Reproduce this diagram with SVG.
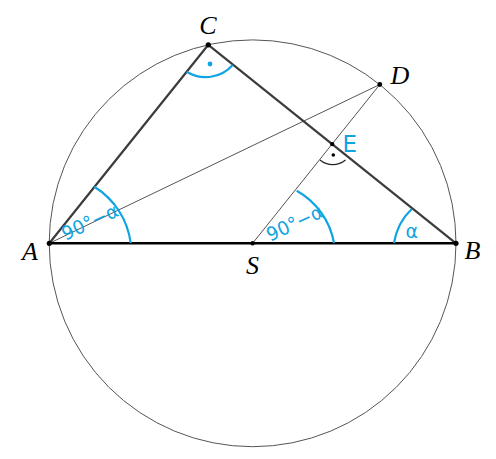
<svg xmlns="http://www.w3.org/2000/svg" width="496" height="459" viewBox="0 0 496 459">
<style>
.thin{stroke:#555;stroke-width:1;fill:none}
.side{stroke:#3c3c3c;stroke-width:2.2;fill:none;stroke-linecap:round}
.base{stroke:#000;stroke-width:2.4;fill:none}
.ang{stroke:#10a4e2;stroke-width:2.2;fill:none}
.pt{fill:#000}
.lbl{font-family:"Liberation Serif",serif;font-style:italic;font-size:26px;fill:#000}
.blue{font-family:"DejaVu Sans",sans-serif;font-size:19px;fill:#10a4e2}
</style>
<rect width="496" height="459" fill="#fff"/>
<g id="connectors">
<circle id="circle" cx="252.6" cy="243.3" r="203.4" class="thin"/>
<line x1="49.3" y1="243.3" x2="379.8" y2="84.5" class="thin"/>
<line x1="252.6" y1="243.3" x2="379.8" y2="84.5" class="thin"/>
<line x1="49.3" y1="243.3" x2="208.3" y2="44.8" class="side"/>
<line x1="208.3" y1="44.8" x2="456" y2="243.3" class="side"/>
<line x1="49.3" y1="243.3" x2="456" y2="243.3" class="base"/>
</g>
<g id="angles">
<path d="M 94.3 186.7 A 78 78 0 0 1 130.7 243" class="ang"/>
<path d="M 296.7 190.7 A 75 75 0 0 1 334 243" class="ang"/>
<path d="M 394 243 A 60 60 0 0 1 411.7 209" class="ang"/>
<path d="M 186.7 71.7 A 36 36 0 0 0 232.7 65" class="ang"/>
<circle cx="210" cy="64" r="2.4" fill="#10a4e2"/>
<path d="M 320 160 A 20 20 0 0 0 345.5 160" stroke="#222" stroke-width="1.2" fill="none"/>
<circle cx="333.3" cy="155" r="1.8" class="pt"/>
<text class="blue" text-anchor="middle" textLength="60" lengthAdjust="spacingAndGlyphs" transform="translate(92.8,228) rotate(-25)">90°−α</text>
<text class="blue" text-anchor="middle" textLength="60" lengthAdjust="spacingAndGlyphs" transform="translate(297.5,229) rotate(-25)">90°−α</text>
<text class="blue" x="411.7" y="237.5" text-anchor="middle" font-size="21">α</text>
</g>
<g id="A"><circle cx="49.3" cy="243.3" r="2.6" class="pt"/><text class="lbl" x="30" y="260" text-anchor="middle">A</text></g>
<g id="B"><circle cx="456" cy="243.3" r="2.6" class="pt"/><text class="lbl" x="472.5" y="258.5" text-anchor="middle">B</text></g>
<g id="C"><circle cx="208.3" cy="44.8" r="2.6" class="pt"/><text class="lbl" x="208" y="33.5" text-anchor="middle">C</text></g>
<g id="D"><circle cx="379.8" cy="84.5" r="2.4" class="pt"/><text class="lbl" x="400" y="83.5" text-anchor="middle">D</text></g>
<g id="E"><circle cx="332.2" cy="144.1" r="2.2" class="pt"/><text x="342.5" y="152" font-family="DejaVu Sans,sans-serif" font-size="23" fill="#10a4e2">E</text></g>
<g id="S"><circle cx="252.6" cy="243.3" r="2.2" class="pt"/><text class="lbl" x="252.6" y="273.5" text-anchor="middle">S</text></g>
</svg>
